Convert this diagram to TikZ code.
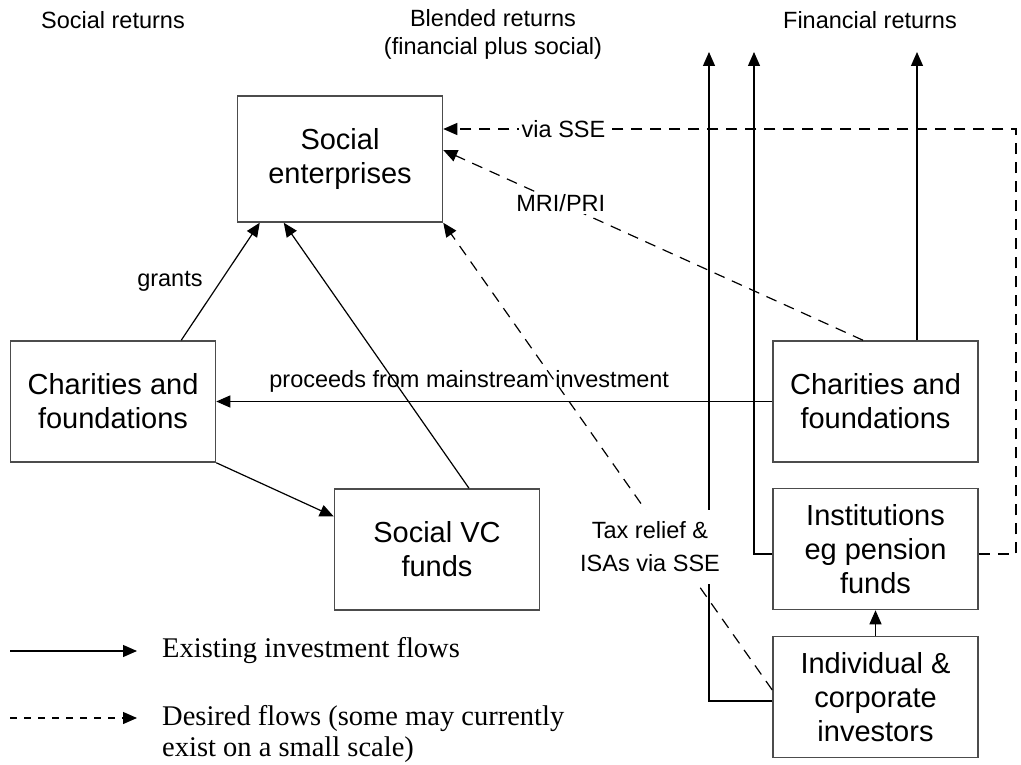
\documentclass[tikz,border=0pt]{standalone}
\usepackage{fontspec}
\setmainfont{Liberation Sans}
\newfontfamily\legendfont{Liberation Serif}
\usetikzlibrary{arrows.meta,positioning,calc}

\tikzset{
  box/.style={draw=black!70, line width=1.5pt, minimum width=205pt, minimum height=121pt,
    align=center, inner sep=0pt, font=\fontsize{29}{34}\selectfont},
  flow/.style={line width=1.2pt, -{Triangle[length=14pt,width=12pt]}},
  wish/.style={flow, dash pattern=on 11pt off 8pt},
  lbl/.style={font=\fontsize{23.5}{33}\selectfont, align=center},
  head/.style={font=\fontsize{23.5}{28}\selectfont, align=center},
  legtext/.style={font=\legendfont\fontsize{28.5}{31}\selectfont, align=left, inner sep=0pt},
}

\begin{document}
\begin{tikzpicture}[x=1pt, y=-1pt]
  \useasboundingbox (0,0) rectangle (1021,765);

  % column headings
  \node[head] (hsoc) at (113,20) {Social returns};
  \node[head] (hblend) at (493,34) {Blended returns\\(financial plus social)};
  \node[head] (hfin) at (870,20) {Financial returns};

  % boxes
  \node[box, minimum height=126pt] (socent) at (340,159) {Social\\enterprises};
  \node[box] (charL) at (113,401.5) {Charities and\\foundations};
  \node[box] (vcfund) at (437,549.5) {Social VC\\funds};
  \node[box] (charR) at (875.5,401.5) {Charities and\\foundations};
  \node[box] (inst) at (875.5,549) {Institutions\\eg pension\\funds};
  \node[box] (indiv) at (875.5,697) {Individual \&\\corporate\\investors};

  \coordinate (upL) at (709,52);
  \coordinate (upM) at (754,52);
  \coordinate (upR) at (917,52);
  \coordinate (sseR) at (1016,129);

  % existing flows
  \draw[flow] ([xshift=-35pt]charL.north east) -- node[lbl, pos=0.5, left=14pt] {grants} ([xshift=23pt]socent.south west);
  \draw[flow] ([xshift=32pt]vcfund.north) -- ([xshift=47pt]socent.south west);
  \draw[flow] (charR.west) -- node[lbl, above=5pt, pos=0.545] {proceeds from mainstream investment} (charL.east);
  \draw[flow] (charL.south east) -- ([yshift=33pt]vcfund.west);
  \draw[flow] (indiv.north) -- (inst.south);
  \draw[flow] (charR.north -| upR) -- (upR);
  \draw[flow] ([yshift=-5pt]inst.west) -| (upM);
  \draw[flow] ([yshift=-4pt]indiv.west) -| (upL);

  % desired flows
  \draw[wish] ([yshift=7pt]indiv.west) -- (socent.south east);
  \draw[wish] ([xshift=-12.5pt]charR.north) -- node[lbl, fill=white, inner sep=2pt, pos=0.72] {MRI/PRI} ([yshift=9pt]socent.east);
  \draw[wish] ([yshift=-5pt]inst.east) -| (sseR) -- node[lbl, fill=white, inner sep=3pt, pos=0.79] {via SSE} (socent.east |- sseR);
  \node[lbl, fill=white, inner xsep=3pt, inner ysep=12pt] (tax) at (650,547) {Tax relief \&\\ISAs via SSE};

  % legend
  \coordinate (legA) at (10,651);
  \coordinate (legB) at (137,651);
  \coordinate (legC) at (10,718);
  \coordinate (legD) at (137,718);
  \draw[flow] (legA) -- (legB);
  \draw[flow, dash pattern=on 7pt off 7pt] (legC) -- (legD);
  \node[legtext, anchor=west] (legsolid) at (162,651) {Existing investment flows};
  \node[legtext, anchor=west] (legdash) at (162,733.5) {Desired flows (some may currently\\exist on a small scale)};
\end{tikzpicture}
\end{document}
